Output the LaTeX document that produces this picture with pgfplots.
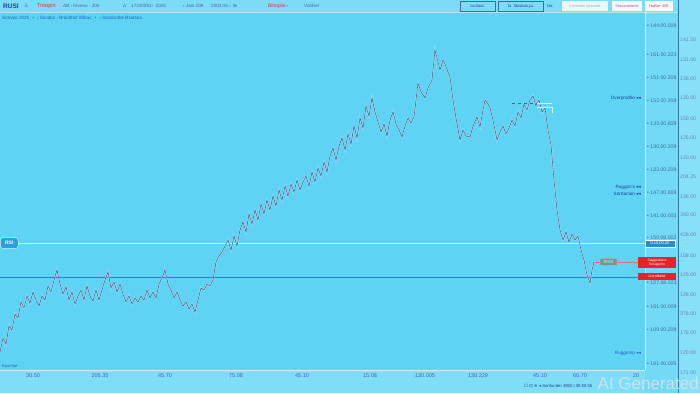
\documentclass[border=0pt]{standalone}
\usepackage{fontspec}
\setmainfont{Liberation Sans}
\newfontfamily\dv{DejaVu Sans}
\usepackage{pgfplots}
\pgfplotsset{compat=1.18}
\definecolor{bgblue}{HTML}{5ED3F3}
\definecolor{colone}{HTML}{72DAF6}
\definecolor{coltwo}{HTML}{86E0F8}
\definecolor{strip}{HTML}{7EDDF7}
\definecolor{topstrip}{HTML}{7CDCF7}
\definecolor{linec}{HTML}{44649A}
\definecolor{tickc}{HTML}{3F6E9E}
\definecolor{darkt}{HTML}{1D4594}
\definecolor{bluet}{HTML}{2563C0}
\definecolor{redbox}{HTML}{E8222C}
\definecolor{redline}{HTML}{C8465C}
\definecolor{sep}{HTML}{2E78A8}
\definecolor{redt}{HTML}{E0303A}
\definecolor{pinkt}{HTML}{D040A0}
\newcommand{\fs}[1]{\fontsize{#1}{#1}\selectfont}
\begin{document}
\begin{tikzpicture}[x=1pt,y=1pt]
\useasboundingbox (0,0) rectangle (700,393);
\fill[colone] (645,0) rectangle (678,393);
\fill[coltwo] (678,0) rectangle (700,393);
\fill[strip] (0,0) rectangle (645,23);
\begin{axis}[
  at={(0pt,23pt)}, anchor=south west, scale only axis,
  width=645pt, height=370pt,
  xmin=0, xmax=645, ymin=0, ymax=370, y dir=reverse,
  axis line style={draw=none},
  axis background/.style={fill=bgblue},
  tick style={draw=none},
  clip=false,
  xtick={33,100,165,236,302,370,425,478,540,580,636},
  xticklabels={30.50,205.35,45.70,75.08,45.10,15.08,130.005,138.229,45.10,60.70,20},
  xticklabel style={anchor=center, yshift=-6pt, font=\fs{5.5}, text=tickc},
  ytick={26,55,78,101,124,147,170,193,216,238,283,307,330,364},
  yticklabels={• 144.00.009,• 161.00.223,• 151.00.209,• 152.00.209,• 133.00.609,• 130.00.209,• 133.00.209,• 147.00.609,• 141.00.003,• 150.08.002,• 127.08.223,• 161.00.009,• 109.00.208,• 181.00.005},
  yticklabel pos=right,
  yticklabel style={anchor=west, inner sep=0pt, xshift=2pt, font=\fs{5.2}, text=tickc},
]
\addplot[color={rgb,255:red,200;green,242;blue,255}, line width=0.8pt] coordinates {(0,243) (645,243)};
\addplot[redline, line width=0.8pt] coordinates {(0,277) (645,277)};
\addplot[redline!75!white, line width=0.5pt] coordinates {(593,262) (645,262)};
\pgfplotstableread{
x y
0 352
3 338
6 344
9 326
12 330
15 314
18 318
21 302
24 308
27 296
30 303
33 292
36 300
39 306
42 296
45 300
48 286
51 292
54 280
57 270
60 284
63 294
66 287
69 300
72 292
75 304
78 296
81 290
84 300
87 286
90 296
93 301
96 290
99 300
102 290
105 280
108 272
111 288
114 282
117 292
120 284
123 294
126 302
129 296
132 304
135 298
138 302
141 296
144 300
147 290
150 298
153 292
156 298
159 284
162 278
165 270
168 284
171 290
174 298
177 292
180 300
183 306
186 302
189 309
192 304
195 312
198 300
201 288
204 290
207 284
210 286
213 280
216 262
219 256
222 252
225 246
228 240
231 250
234 236
237 246
240 230
243 222
246 232
249 214
252 224
255 210
258 220
261 204
264 214
267 200
270 210
273 196
276 206
279 190
282 200
285 186
288 196
291 184
294 192
297 180
300 190
303 182
306 176
309 186
312 172
315 182
318 168
321 176
324 162
327 172
330 156
333 148
336 160
339 146
342 138
345 150
348 134
351 144
354 126
357 138
360 118
363 128
366 106
369 116
372 98
375 112
378 122
381 132
384 124
387 136
390 120
393 112
396 124
399 130
402 137
405 126
408 118
411 123
414 117
418 83
421 92
425 98
428 88
432 80
435 50
438 62
440 70
443 60
445 64
448 72
450 77
453 100
456 118
460 140
463 130
466 136
470 137
473 126
477 117
480 127
483 110
485 100
488 104
490 108
493 120
495 130
497 140
500 132
503 126
506 134
509 128
512 120
515 126
518 112
521 118
524 104
527 110
530 100
533 96
536 106
539 100
542 112
545 108
548 130
551 145
554 180
557 210
560 230
563 240
566 232
569 242
572 234
575 240
578 236
581 250
584 260
587 275
590 283
592 270
594 262
}\series
\addplot[white, opacity=0.45, line width=1.5pt] table {\series};
\addplot[linec, line width=0.6pt] table {\series};
\addplot[linec, dashed, line width=0.4pt] coordinates {(512,103) (537,103)};
\addplot[color={rgb,255:red,215;green,245;blue,225}, line width=0.5pt] coordinates {(537,103) (552,103)};
\addplot[color={rgb,255:red,215;green,245;blue,225}, line width=0.5pt] coordinates {(537,107) (552,107) (552,113)};
\end{axis}
\begin{axis}[
  at={(0pt,0pt)}, anchor=south west, scale only axis,
  width=645pt, height=393pt,
  xmin=0, xmax=645, ymin=0, ymax=393, y dir=reverse,
  axis line style={draw=none}, tick style={draw=none},
  xtick=\empty,
  ytick={40,60,79,98,119,138,158,177,197,215,235,256,275,295,314,333,353,373},
  yticklabels={141.50,131.00,136.00,130.00,150.00,125.00,120.00,204.25,136.00,350.00,426.00,158.00,125.00,128.00,378.00,176.00,120.00,171.00},
  yticklabel pos=right,
  yticklabel style={anchor=west, inner sep=0pt, xshift=35pt, font=\fs{5.2}, text=tickc!80!white},
]
\addplot[draw=none] coordinates {(0,0)};
\end{axis}
% separators
\draw[white, opacity=0.7, line width=0.6pt] (645,23) -- (645,381);
\draw[white, opacity=0.6, line width=0.6pt] (0,23) -- (645,23);
\draw[sep, line width=0.8pt] (678,0) -- (678,393);
% top strip
\fill[topstrip] (0,381) rectangle (678,393);
\draw[white, opacity=0.5, line width=0.4pt] (0,381) -- (678,381);
\node[anchor=west, inner sep=0pt, text=darkt, font=\fs{6.5}\bfseries] at (3,387) {RUSI};
\node[anchor=west, inner sep=0pt, text=tickc, font=\fs{5}\dv] at (24,387) {♙};
\node[anchor=west, inner sep=0pt, text=redt, font=\fs{5.5}] at (37,387) {Troopin};
\node[anchor=west, inner sep=0pt, text=tickc, font=\fs{4.6}] at (63,387) {ΔB ‹ fovevw · 205};
\node[anchor=west, inner sep=0pt, text=tickc, font=\fs{4.6}] at (123,387) {Δ};
\node[anchor=west, inner sep=0pt, text=tickc, font=\fs{4.6}] at (131,387) {17220061› \ 2025};
\node[anchor=west, inner sep=0pt, text=tickc, font=\fs{4.6}] at (183,387) {‹ Jain 208};
\node[anchor=west, inner sep=0pt, text=tickc, font=\fs{4.6}] at (211,387) {2003.05 › \ {\dv ⊞}};
\node[anchor=west, inner sep=0pt, text=redt, font=\fs{4.8}] at (268,387) {Bitroplin ›};
\node[anchor=west, inner sep=0pt, text=tickc, font=\fs{4.6}] at (304,387) {Voldsel};
% buttons
\node[draw=tickc, line width=0.4pt, minimum width=35pt, minimum height=10pt, inner sep=0pt, text=darkt, font=\fs{4}] at (477.5,387) {no.0aec};
\node[draw=tickc, line width=0.4pt, minimum width=45pt, minimum height=10pt, inner sep=0pt, text=darkt, font=\fs{4}] at (520.5,387) {fo \ Skiubsb-ys};
\node[anchor=west, inner sep=0pt, text=darkt, font=\fs{4}] at (547,387) {No.};
\node[fill=white, fill opacity=0.85, text opacity=1, minimum width=46pt, minimum height=10pt, inner sep=0pt, text=tickc!60!white, font=\fs{3.8}] at (585,387) {Lovonmo omucoio};
\node[fill=white, fill opacity=0.9, text opacity=1, minimum width=30pt, minimum height=10pt, inner sep=0pt, text=pinkt, font=\fs{3.8}] at (627,387) {Skocoveeene};
\node[fill=white, fill opacity=0.9, text opacity=1, minimum width=28pt, minimum height=10pt, inner sep=0pt, text=redt, font=\fs{3.8}] at (659,387) {HuBu+ 405};
% second row
\node[anchor=west, inner sep=0pt, text=bluet, font=\fs{4.6}] at (2,375) {Sonvoo 2025 \ + \ › Sovdos › Brdoltbof 85bas \ + \ › Sovdontbe Bsotsos};
% right-hand labels
\node[anchor=east, inner sep=0pt, text=darkt, font=\fs{4.6}] at (641,295) {Overprodtio {\dv ◂◂}};
\node[anchor=east, inner sep=0pt, text=darkt, font=\fs{4.6}] at (641,206) {Ruggon's {\dv ◂◂}};
\node[anchor=east, inner sep=0pt, text=darkt, font=\fs{4.6}] at (641,199) {Sorrtanion {\dv ◂◂}};
\node[anchor=east, inner sep=0pt, text=bluet, font=\fs{4.6}] at (641,40) {Ruggomp {\dv ◂◂}};
\node[anchor=west, inner sep=0pt, text=bluet, font=\fs{4}] at (2,27) {Bourthat};
% RSI tag
\node[anchor=west, fill={rgb,255:red,44;green,159;blue,221}, draw={rgb,255:red,205;green,243;blue,255}, line width=0.5pt, rounded corners=3pt, minimum width=18pt, minimum height=11pt, inner sep=0pt, text=white, font=\fs{5}\bfseries] at (0,150) {RSI};
% right boxes
\node[fill={rgb,255:red,42;green,140;blue,208}, draw=white, line width=0.3pt, minimum width=30pt, minimum height=7pt, inner sep=0pt, text=white, font=\fs{4}] at (660,149.5) {0.15.00.00};
\node[fill={rgb,255:red,110;green,154;blue,150}, draw={rgb,255:red,170;green,205;blue,205}, line width=0.3pt, rounded corners=1pt, minimum width=17pt, minimum height=7pt, inner sep=0pt, text={rgb,255:red,225;green,240;blue,240}, font=\fs{4.2}] at (608.5,131) {P025};
\node[fill=redbox, minimum width=38pt, minimum height=11pt, inner sep=0pt, align=center, text=white, font=\fontsize{3.4}{4.4}\selectfont] at (657,130.5) {Suggestiono\\Rusagemo};
\node[fill=redbox, minimum width=38pt, minimum height=7pt, inner sep=0pt, text=white, font=\fs{3.8}] at (657,116.5) {Liorotkere};
% bottom row text
\node[anchor=west, inner sep=0pt, text=darkt, font=\fs{4.2}] at (524,7) {{\dv ☐ ⊡ ※ ◂} Sorrlunder 4950 | 08 \$0.55};
\node[anchor=east, inner sep=0pt, text={rgb,255:red,215;green,228;blue,235}, opacity=0.85, font=\fs{17}] at (699,10) {AI Generated};
\end{tikzpicture}
\end{document}
